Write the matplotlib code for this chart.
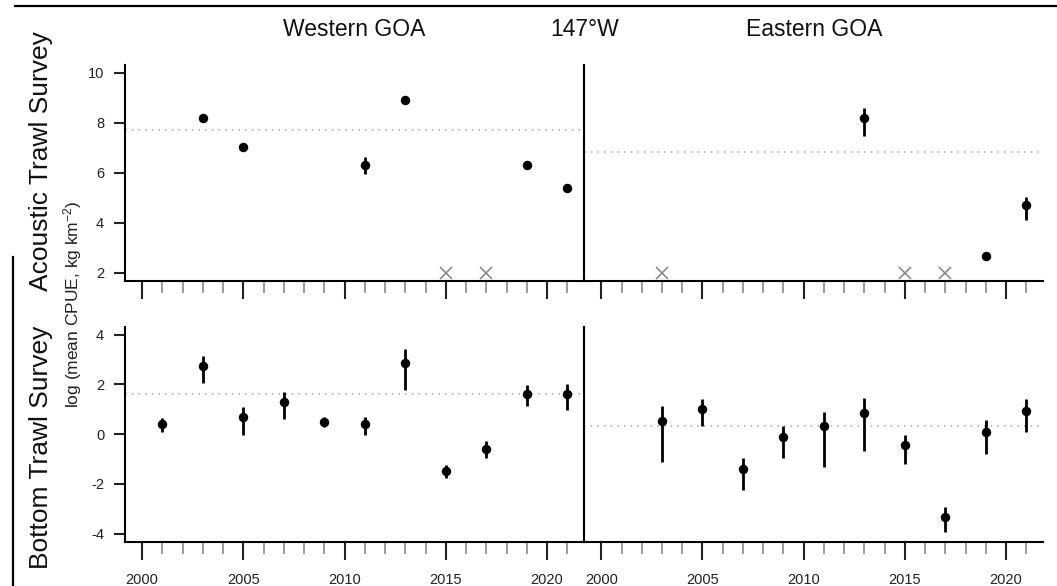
import matplotlib
matplotlib.use("Agg")
import matplotlib.pyplot as plt
from matplotlib.lines import Line2D
import numpy as np

plt.rcParams["font.family"] = ["Liberation Sans", "DejaVu Sans"]
plt.rcParams["axes.unicode_minus"] = False
plt.rcParams["mathtext.fontset"] = "custom"
plt.rcParams["mathtext.rm"] = "Liberation Sans"
plt.rcParams["mathtext.it"] = "Liberation Sans"

# Acoustic trawl survey, Western GOA
at_w_years = [2003, 2005, 2011, 2013, 2019, 2021]
at_w_mean = [8.21, 7.05, 6.32, 8.91, 6.31, 5.39]
at_w_lo = [8.12, 6.98, 5.96, 8.84, 6.23, 5.31]
at_w_hi = [8.30, 7.12, 6.63, 8.98, 6.38, 5.46]
at_w_missing = [2015, 2017]
at_w_ref = 7.73

# Acoustic trawl survey, Eastern GOA
at_e_years = [2013, 2019, 2021]
at_e_mean = [8.19, 2.67, 4.71]
at_e_lo = [7.48, 2.60, 4.12]
at_e_hi = [8.59, 2.74, 5.05]
at_e_missing = [2003, 2015, 2017]
at_e_ref = 6.85

# Bottom trawl survey, Western GOA
bt_w_years = [2001, 2003, 2005, 2007, 2009, 2011, 2013, 2015, 2017, 2019, 2021]
bt_w_mean = [0.40, 2.75, 0.69, 1.28, 0.49, 0.40, 2.88, -1.47, -0.59, 1.63, 1.63]
bt_w_lo = [0.07, 2.04, -0.04, 0.60, 0.29, -0.04, 1.76, -1.75, -0.96, 1.13, 0.97]
bt_w_hi = [0.67, 3.16, 1.11, 1.69, 0.69, 0.71, 3.43, -1.24, -0.27, 1.96, 2.03]
bt_w_ref = 1.60

# Bottom trawl survey, Eastern GOA
bt_e_years = [2003, 2005, 2007, 2009, 2011, 2013, 2015, 2017, 2019, 2021]
bt_e_mean = [0.53, 1.00, -1.41, -0.13, 0.31, 0.85, -0.45, -3.31, 0.08, 0.95]
bt_e_lo = [-1.13, 0.33, -2.24, -0.96, -1.33, -0.67, -1.20, -3.93, -0.80, 0.07]
bt_e_hi = [1.13, 1.43, -0.97, 0.31, 0.89, 1.44, -0.04, -2.93, 0.56, 1.43]
bt_e_ref = 0.31

missing_level = 2
year_ticks = [2000, 2005, 2010, 2015, 2020]
top_yticks = [2, 4, 6, 8, 10]
bot_yticks = [-4, -2, 0, 2, 4]

W, H = 1057, 586
fig = plt.figure(figsize=(W / 100, H / 100), dpi=100)


def frac(x0, y0, x1, y1):
    return [x0 / W, 1 - y1 / H, (x1 - x0) / W, (y1 - y0) / H]


ax_tw = fig.add_axes(frac(125, 65, 584.3, 280.7))
ax_te = fig.add_axes(frac(584.3, 65, 1043.3, 280.7))
ax_bw = fig.add_axes(frac(125, 326.7, 584.3, 541.7))
ax_be = fig.add_axes(frac(584.3, 326.7, 1043.3, 541.7))

XLIM = (1999.16, 2021.84)
minor_years = [y for y in range(2001, 2022) if y % 5 != 0]


def style(ax, ylim, yticks, show_y, show_xlabels):
    ax.set_xlim(*XLIM)
    ax.set_ylim(*ylim)
    for s in ("top", "right"):
        ax.spines[s].set_visible(False)
    ax.spines["bottom"].set_linewidth(1.5)
    ax.spines["left"].set_linewidth(1.5)
    ax.set_xticks(year_ticks)
    ax.set_xticks(minor_years, minor=True)
    ax.tick_params(axis="x", which="major", length=12.7, width=1.5,
                   color="#222222", direction="out", pad=10,
                   labelsize=10.5, labelcolor="#222222",
                   labelbottom=show_xlabels)
    ax.tick_params(axis="x", which="minor", length=8.4, width=1.2,
                   color="#8a8a8a", direction="out")
    if show_y:
        ax.set_yticks(yticks)
        ax.tick_params(axis="y", length=8, width=1.5, color="#222222",
                       direction="out", pad=7, labelsize=10.5,
                       labelcolor="#222222")
    else:
        ax.set_yticks([])


def draw(ax, years, mean, lo, hi, ref, missing=None):
    ax.axhline(ref, color="#b0b0b0", lw=1.2, ls=(0, (1, 3)), zorder=1)
    ax.vlines(years, lo, hi, color="black", lw=2.0, zorder=2)
    ax.plot(years, mean, "o", color="black", ms=5.8, zorder=3)
    if missing:
        ax.plot(missing, [missing_level] * len(missing), "x", color="#8c8c8c",
                ms=9, mew=1.2, zorder=3)


draw(ax_tw, at_w_years, at_w_mean, at_w_lo, at_w_hi, at_w_ref, at_w_missing)
draw(ax_te, at_e_years, at_e_mean, at_e_lo, at_e_hi, at_e_ref, at_e_missing)
draw(ax_bw, bt_w_years, bt_w_mean, bt_w_lo, bt_w_hi, bt_w_ref)
draw(ax_be, bt_e_years, bt_e_mean, bt_e_lo, bt_e_hi, bt_e_ref)

style(ax_tw, (1.68, 10.32), top_yticks, True, False)
style(ax_te, (1.68, 10.32), top_yticks, False, False)
style(ax_bw, (-4.32, 4.32), bot_yticks, True, True)
style(ax_be, (-4.32, 4.32), bot_yticks, False, True)

# Column headings
fig.text(354.6 / W, 1 - 29 / H, "Western GOA", ha="center", va="center",
         fontsize=16.5, color="#111111")
fig.text(584.3 / W, 1 - 29 / H, "147°W", ha="center", va="center",
         fontsize=16.5, color="#111111")
fig.text(813.7 / W, 1 - 29 / H, "Eastern GOA", ha="center", va="center",
         fontsize=16.5, color="#111111")

# Row headings and shared y label
fig.text(41 / W, 1 - 161 / H, "Acoustic Trawl Survey", rotation=90,
         ha="center", va="center", fontsize=19, color="#111111")
fig.text(41 / W, 1 - 447 / H, "Bottom Trawl Survey", rotation=90,
         ha="center", va="center", fontsize=19, color="#111111")
fig.text(73 / W, 1 - 304 / H, r"log (mean CPUE, kg km$^{-2}$)", rotation=90,
         ha="center", va="center", fontsize=12.5, color="#222222")

# Frame lines of the enclosing figure
fig.add_artist(Line2D([15 / W, 1], [1 - 6 / H, 1 - 6 / H], color="black",
                      lw=1.6, transform=fig.transFigure))
fig.add_artist(Line2D([13.3 / W, 13.3 / W], [1 - 257 / H, 0], color="black",
                      lw=1.6, transform=fig.transFigure))

fig.savefig("out.png", dpi=100)
